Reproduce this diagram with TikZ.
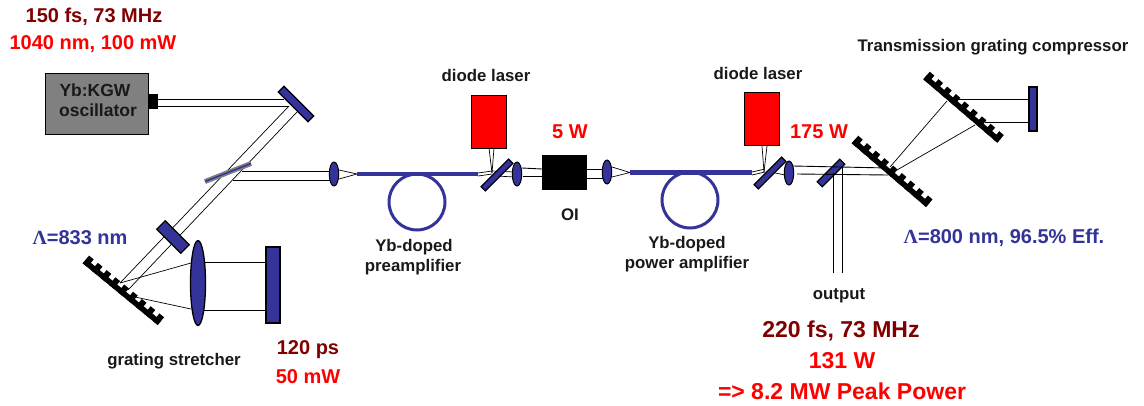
\documentclass[tikz,border=0pt]{standalone}
\usepackage{fontspec}
\setmainfont{Liberation Sans}
\newfontfamily\lamfont{Liberation Serif}
\definecolor{optblue}{HTML}{333399}
\definecolor{darkred}{HTML}{800000}
\definecolor{brightred}{HTML}{FF0000}
\definecolor{boxgray}{HTML}{808080}
\usetikzlibrary{shapes.geometric}
\tikzset{
  lbl/.style={inner sep=0pt,text=black!90,font=\bfseries\fontsize{16.8}{20}\selectfont},
  osclbl/.style={inner sep=0pt,text=black!90,font=\bfseries\fontsize{17.5}{20}\selectfont},
  bluelbl/.style={inner sep=0pt,text=optblue,font=\bfseries\fontsize{20}{24}\selectfont},
  redlbl/.style={inner sep=0pt,text=brightred,font=\bfseries\fontsize{20}{24}\selectfont},
  brownlbl/.style={inner sep=0pt,text=darkred,font=\bfseries\fontsize{20}{24}\selectfont},
  bigred/.style={inner sep=0pt,text=brightred,font=\bfseries\fontsize{23}{27}\selectfont},
  bigbrown/.style={inner sep=0pt,text=darkred,font=\bfseries\fontsize{23}{27}\selectfont},
  beam/.style={draw=black,line width=0.9pt},
  thinbeam/.style={draw=black,line width=0.7pt},
  mirror/.style={rectangle,draw=black,fill=optblue,line width=1.2pt,inner sep=0pt},
  lens/.style={ellipse,draw=black,fill=optblue,line width=1pt,inner sep=0pt,minimum width=9.5pt,minimum height=24pt},
  fiber/.style={draw=optblue,line width=4pt},
  coil/.style={draw=optblue,line width=3pt},
  diode/.style={rectangle,draw=black,fill=brightred,line width=0.9pt,inner sep=0pt,minimum width=35pt,minimum height=53pt},
}
% lower edge from (#1,#2) to (#3,#4); teeth on the upper right side
\newcommand{\gratingshape}[4]{%
  \pgfmathsetmacro{\glen}{veclen(#3-#1,#4-#2)}%
  \pgfmathsetmacro{\ux}{(#3-#1)/\glen}%
  \pgfmathsetmacro{\uy}{(#4-#2)/\glen}%
  \pgfmathsetmacro{\nx}{\uy}%
  \pgfmathsetmacro{\ny}{-\ux}%
  \fill[black] (#1,#2) -- (#3,#4) -- ({#3+5.5*\nx},{#4+5.5*\ny}) -- ({#1+5.5*\nx},{#2+5.5*\ny}) -- cycle;
  \pgfmathsetmacro{\gper}{(\glen-6)/8}%
  \foreach \gi in {0,...,8}{%
    \pgfmathsetmacro{\gs}{\gi*\gper}%
    \pgfmathsetmacro{\ge}{\gs+6}%
    \fill[black] ({#1+\gs*\ux},{#2+\gs*\uy}) -- ({#1+\ge*\ux},{#2+\ge*\uy})
      -- ({#1+\ge*\ux+10*\nx},{#2+\ge*\uy+10*\ny}) -- ({#1+\gs*\ux+10*\nx},{#2+\gs*\uy+10*\ny}) -- cycle;
  }%
}
\begin{document}
\begin{tikzpicture}[x=1pt,y=-1pt]
\useasboundingbox (0,0) rectangle (1144,405);
% ---- oscillator
\node[rectangle,draw=black,fill=boxgray,line width=1pt,minimum width=103pt,minimum height=61pt,inner sep=0pt] (osc) at (96.5,103.5) {};
\node[osclbl] (osct1) at (95,90) {Yb:KGW};
\node[osclbl] (osct2) at (98,110) {oscillator};
\node[rectangle,fill=black,minimum width=10pt,minimum height=15pt,inner sep=0pt] (nub) at (153,101.5) {};
% ---- beams, stretcher side
\path[beam] (158,99) -- (284,99);
\path[beam] (158,106) -- (289,106);
\path[thinbeam] (289,106) -- (120,283);
\path[thinbeam] (297,112) -- (128,290);
\path[beam] (242,171) -- (331,171);
\path[beam] (233,180) -- (331,180);
\path[thinbeam] (339,170) -- (357,174) -- (339,179);
\path[thinbeam] (120,283) -- (191,263);
\path[thinbeam] (135,297) -- (191,309);
\path[thinbeam] (204,262) -- (266,262);
\path[thinbeam] (204,310) -- (266,310);
% ---- stretcher optics
\node[mirror,rotate=-45,minimum width=42pt,minimum height=8pt] (m1) at (296,104) {};
\draw[draw=boxgray,line width=5pt] (205,181.5) -- (251,163.5);
\draw[draw=optblue,line width=1.5pt] (205,181.5) -- (251,163.5);
\node[mirror,rotate=-45,minimum width=34pt,minimum height=12pt] (m2) at (173,237) {};
\node[ellipse,draw=black,fill=optblue,line width=1.3pt,inner sep=0pt,minimum width=15pt,minimum height=85pt] (biglens) at (198,283) {};
\node[mirror,minimum width=14pt,minimum height=76pt] (m3) at (273,285) {};
\gratingshape{82.7}{263.3}{157.7}{325}
% ---- first amplifier
\node[lens] (l1) at (334,174) {};
\draw[fiber] (357,174) -- (478,174);
\draw[coil] (417,202) circle (28);
\node[diode] (d1) at (488.5,121.5) {};
\path[thinbeam] (489,148) -- (492,173);
\path[thinbeam] (494,148) -- (492,173);
\path[thinbeam] (478,173) -- (492,171);
\path[thinbeam] (478,176) -- (492,174);
\path[thinbeam] (492,171) -- (514,172);
\path[thinbeam] (497,176) -- (514,177);
\node[mirror,rotate=45,minimum width=39pt,minimum height=6pt] (m4) at (497,175) {};
\node[lens] (l2) at (517,174) {};
\path[beam] (522,168) -- (542,169);
\path[beam] (523,176) -- (542,176);
\node[rectangle,fill=black,minimum width=45pt,minimum height=35pt,inner sep=0pt] (oi) at (564.5,172.5) {};
\path[beam] (587,169) -- (603,169);
\path[beam] (587,178) -- (603,178);
\node[lens] (l3) at (607,172) {};
\path[thinbeam] (612,167) -- (630,172.5) -- (612,177);
% ---- power amplifier
\draw[fiber,line width=5pt] (630,172.5) -- (752,172.5);
\draw[coil] (690,200) circle (28);
\node[diode] (d2) at (761.5,119) {};
\path[thinbeam] (762,146) -- (764,172);
\path[thinbeam] (767,146) -- (764,172);
\path[thinbeam] (752,172) -- (765,169);
\path[thinbeam] (752,175) -- (765,172);
\path[thinbeam] (766,171) -- (785,175);
\node[mirror,rotate=45,minimum width=39pt,minimum height=6pt] (m5) at (770,173) {};
\node[lens] (l4) at (789,173) {};
\node[mirror,rotate=45,minimum width=32pt,minimum height=7pt] (m6) at (831,173) {};
\path[beam] (793,166) -- (888,168);
\path[beam] (797,174) -- (888,175);
\path[beam] (842,167) -- (842,273);
\path[beam] (833,173) -- (833,273);
% ---- compressor
\path[thinbeam] (890,167) -- (947,101);
\path[thinbeam] (897,170) -- (975,125);
\path[beam] (958,99) -- (1029,99);
\path[beam] (985,122) -- (1029,122);
\gratingshape{851.7}{143.3}{926}{207}
\gratingshape{923.3}{79.3}{997.3}{142.7}
\node[mirror,minimum width=8pt,minimum height=44pt] (m7) at (1033,109) {};
% ---- labels
\node[brownlbl] (t1) at (94,17) {150 fs, 73 MHz};
\node[redlbl] (t2) at (93,44) {1040 nm, 100 mW};
\node[bluelbl] (t3) at (80,238) {{\lamfont Λ}=833 nm};
\node[lbl] (t4) at (174,361) {grating stretcher};
\node[brownlbl] (t5) at (308,350) {120 ps};
\node[redlbl] (t6) at (308,377) {50 mW};
\node[lbl] (t7) at (486,75) {diode laser};
\node[redlbl] (t8) at (570,132) {5 W};
\node[lbl] (t9) at (570,215) {OI};
\node[lbl] (t10) at (414,247) {Yb-doped};
\node[lbl] (t11) at (413,267) {preamplifier};
\node[lbl] (t12) at (758,73) {diode laser};
\node[redlbl] (t13) at (819,132) {175 W};
\node[lbl] (t14) at (687,244) {Yb-doped};
\node[lbl] (t15) at (687,264) {power amplifier};
\node[lbl] (t16) at (839,296) {output};
\node[lbl] (t17) at (993,47) {Transmission grating compressor};
\node[bluelbl] (t18) at (1004,238) {{\lamfont Λ}=800 nm, 96.5\% Eff.};
\node[bigbrown] (t19) at (841,331) {220 fs, 73 MHz};
\node[bigred] (t20) at (842,361) {131 W};
\node[bigred] (t21) at (842,391) {=> 8.2 MW Peak Power};
\end{tikzpicture}
\end{document}
